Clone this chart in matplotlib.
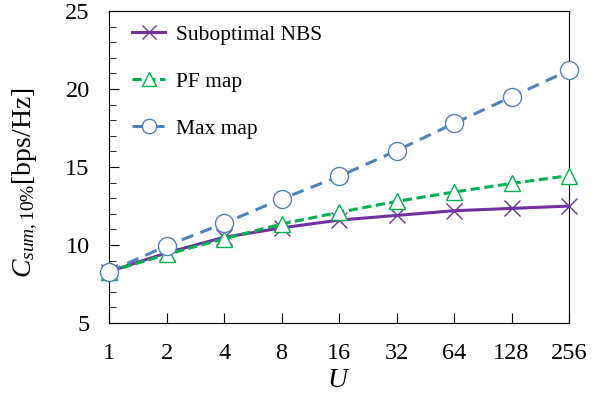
import numpy as np
import matplotlib
matplotlib.use("Agg")
import matplotlib.pyplot as plt
from matplotlib.ticker import MultipleLocator

plt.rcParams['font.family'] = 'Liberation Serif'
plt.rcParams['mathtext.fontset'] = 'custom'
plt.rcParams['mathtext.rm'] = 'Liberation Serif'
plt.rcParams['mathtext.it'] = 'Liberation Serif:italic'

# data
users = ['1', '2', '4', '8', '16', '32', '64', '128', '256']
nbs = [8.3, 9.5, 10.5, 11.1, 11.6, 11.9, 12.2, 12.35, 12.5]
pf_map = [8.3, 9.4, 10.4, 11.35, 12.1, 12.8, 13.4, 13.95, 14.45]
max_map = [8.3, 9.95, 11.4, 12.95, 14.4, 16.05, 17.8, 19.5, 21.2]

x = np.arange(len(users))

fig = plt.figure(figsize=(6.06, 3.94), dpi=100)
ax = fig.add_axes([0.180, 0.180, 0.759, 0.792])

ax.plot(x, nbs, '-', color='#7030A0', lw=2.2, marker='x', ms=12,
        mew=1.0, label='Suboptimal NBS', zorder=3, clip_on=False)
ax.plot(x, pf_map, '--', color='#00B050', lw=2.2, marker='^', ms=12,
        mfc='white', mew=1.0, dashes=(3, 1.5), label='PF map', zorder=4,
        clip_on=False)
ax.plot(x, max_map, '--', color='#4F81BD', lw=2.2, marker='o', ms=13,
        mfc='white', mew=1.0, dashes=(4, 2.5), label='Max map', zorder=5,
        clip_on=False)

ax.set_xlim(0, len(users) - 1)
ax.set_ylim(5, 25)
ax.set_xticks(x)
ax.set_xticklabels(users)
ax.yaxis.set_major_locator(MultipleLocator(5))
ax.yaxis.set_minor_locator(MultipleLocator(1))
ax.tick_params(axis='both', which='both', direction='in', labelsize=17.5,
               top=False, right=False)
ax.tick_params(axis='y', which='major', length=7, pad=14)
ax.tick_params(axis='y', which='minor', length=5)
ax.tick_params(axis='x', which='major', length=7, pad=14)

ax.set_xlabel(r'$U$', fontsize=20, labelpad=3)
ax.set_ylabel(r'$C_{sum,\mathrm{10\%}}$[bps/Hz]', fontsize=20)
ax.yaxis.set_label_coords(-0.15, 0.449)

ax.legend(loc='upper left', bbox_to_anchor=(0.031, 0.983), borderaxespad=0,
          frameon=False, fontsize=15.5, handlelength=1.55,
          handletextpad=0.5, labelspacing=1.24, markerscale=0.8)

fig.savefig('out.png', dpi=100)
